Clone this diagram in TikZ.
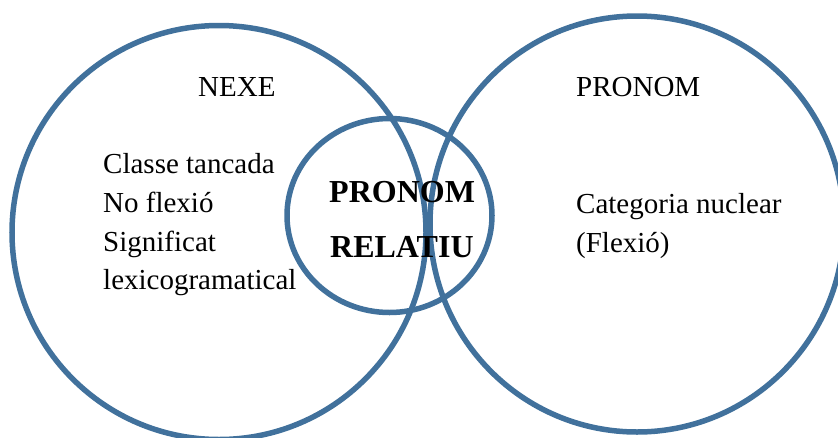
\documentclass[tikz,border=0pt]{standalone}
\usepackage{fontspec}
\setmainfont{Liberation Serif}
\definecolor{ringblue}{HTML}{41719C}
\begin{document}
\begin{tikzpicture}[x=1pt,y=-1pt,
  ring/.style={draw=ringblue,line width=5.5pt},
  txt/.style={anchor=base west,inner sep=0pt,font=\fontsize{29}{34}\selectfont},
  bold/.style={anchor=base west,inner sep=0pt,font=\fontsize{32}{38}\selectfont\bfseries}]
\useasboundingbox (0,0) rectangle (838,437);
\clip (0,0) rectangle (838,437);
\draw[ring] (219,232.5) ellipse [x radius=207pt, y radius=207pt];
\draw[ring] (637,224) ellipse [x radius=207pt, y radius=208pt];
\draw[ring] (389.5,215.5) ellipse [x radius=102.5pt, y radius=97pt];
\node[txt] (nexe) at (198,96) {NEXE};
\node[txt] (pronomr) at (576,96) {PRONOM};
\node[txt] (l1) at (103,173) {Classe tancada};
\node[txt] (l2) at (103,212) {No flexió};
\node[txt] (l3) at (103,251) {Significat};
\node[txt] (l4) at (103,289) {lexicogramatical};
\node[txt] (r1) at (576,213) {Categoria nuclear};
\node[txt] (r2) at (576,252) {(Flexió)};
\node[bold] (m1) at (329,202) {PRONOM};
\node[bold] (m2) at (330,257) {RELATIU};
\end{tikzpicture}
\end{document}
